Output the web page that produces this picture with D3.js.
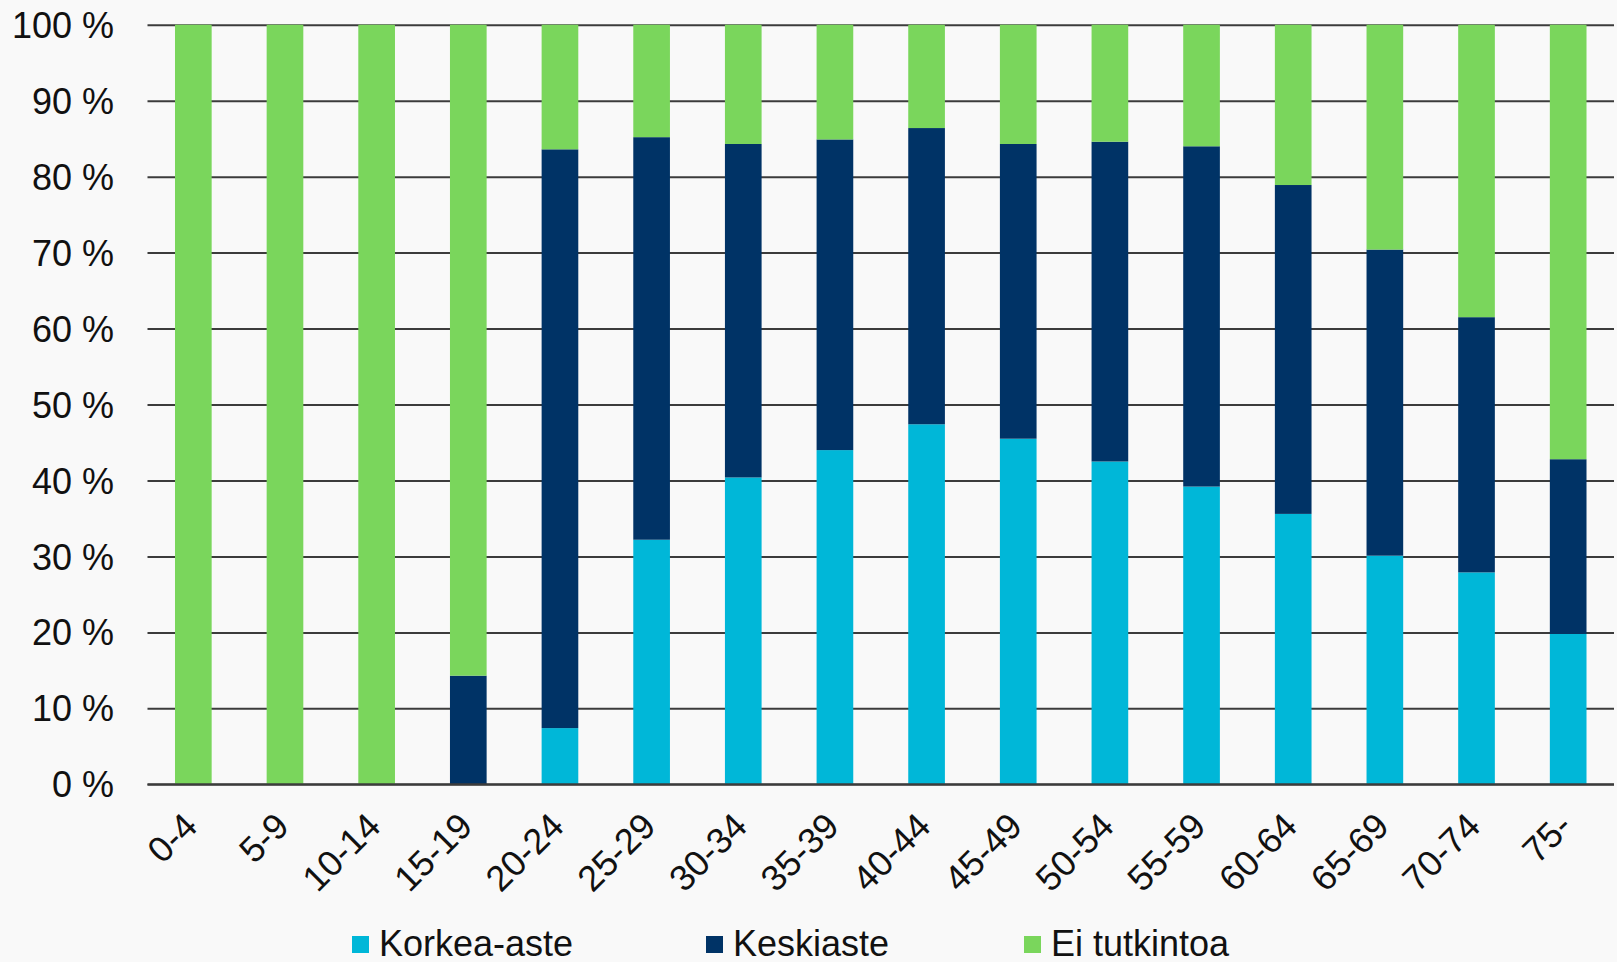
<!DOCTYPE html>
<html>
<head>
<meta charset="utf-8">
<script src="https://cdn.jsdelivr.net/npm/d3@7"></script>
<style>
  html, body { margin: 0; padding: 0; background: #f9f9f9; }
  svg { display: block; }
</style>
</head>
<body>
<script>
// age groups and the three education levels (percent of the age group)
var ageGroups = ["0-4", "5-9", "10-14", "15-19", "20-24", "25-29", "30-34", "35-39",
                 "40-44", "45-49", "50-54", "55-59", "60-64", "65-69", "70-74", "75-"];
var korkeaAste = [0, 0, 0, 0, 7.4, 32.2, 40.4, 44.0, 47.4, 45.5, 42.5, 39.2, 35.6, 30.1, 27.9, 19.8];
var keskiaste  = [0, 0, 0, 14.3, 76.2, 53.0, 43.9, 40.9, 39.0, 38.8, 42.1, 44.8, 43.3, 40.3, 33.6, 23.0];
var eiTutkintoa = [100, 100, 100, 85.7, 16.4, 14.8, 15.7, 15.1, 13.6, 15.7, 15.4, 16.0, 21.1, 29.6, 38.5, 57.2];
var seriesNames = ["Korkea-aste", "Keskiaste", "Ei tutkintoa"];
var seriesColors = ["#00b7d8", "#003366", "#7ad65c"];
var yTicks = [0, 10, 20, 30, 40, 50, 60, 70, 80, 90, 100];

var w = 1617, h = 962;
// note: "top" is taken by window.top, so plot edges get their own names
var plotLeft = 147.5, plotRight = 1614, plotTop = 24.75, plotBottom = 784.3;
var fontSize = 36;

// build rows for d3.stack
var rows = ageGroups.map(function(a, i) {
  return { age: a, "Korkea-aste": korkeaAste[i], "Keskiaste": keskiaste[i], "Ei tutkintoa": eiTutkintoa[i] };
});
var stacked = d3.stack().keys(seriesNames)(rows);

var xScale = d3.scaleBand()
  .domain(ageGroups)
  .range([plotLeft, plotRight])
  .paddingInner(0.6)
  .paddingOuter(0.3);

var yScale = d3.scaleLinear()
  .domain([0, 100])
  .range([plotBottom, plotTop]);

var svg = d3.select("body").append("svg")
  .attr("width", w)
  .attr("height", h)
  .style("font-family", "'Liberation Sans', Arial, sans-serif");

svg.append("rect").attr("width", w).attr("height", h).attr("fill", "#f9f9f9");

// gridlines + y labels
var yAxis = svg.append("g")
  .attr("transform", "translate(" + plotLeft + ",0)")
  .call(d3.axisLeft(yScale).tickValues(yTicks)
    .tickSize(-(plotRight - plotLeft))
    .tickPadding(plotLeft - 114)
    .tickFormat(function(d) { return d + " %"; }));
yAxis.select(".domain").remove();
yAxis.selectAll(".tick line").attr("stroke", "#3c3c3c").attr("stroke-width", 2);
yAxis.selectAll(".tick text")
  .attr("fill", "#111")
  .style("font-size", fontSize + "px")
  .attr("dy", "0.35em");

// bars
svg.append("g").selectAll("g")
  .data(stacked)
  .enter().append("g")
  .attr("fill", function(d, i) { return seriesColors[i]; })
  .selectAll("rect")
  .data(function(d) { return d; })
  .enter().append("rect")
  .attr("x", function(d) { return xScale(d.data.age); })
  .attr("y", function(d) { return yScale(d[1]); })
  .attr("width", xScale.bandwidth())
  .attr("height", function(d) { return yScale(d[0]) - yScale(d[1]); });

// baseline on top
svg.append("line")
  .attr("x1", plotLeft).attr("x2", plotRight)
  .attr("y1", plotBottom).attr("y2", plotBottom)
  .attr("stroke", "#3c3c3c").attr("stroke-width", 2);

// x labels, rotated
svg.append("g").selectAll("text")
  .data(ageGroups)
  .enter().append("text")
  .attr("transform", function(d) {
    return "translate(" + (xScale(d) + xScale.bandwidth() / 2 + 6) + "," + (plotBottom + 44) + ") rotate(-45)";
  })
  .attr("text-anchor", "end")
  .attr("fill", "#111")
  .style("font-size", fontSize + "px")
  .text(function(d) { return d; });

// legend
var legendX = [352, 706, 1024];
var legend = svg.append("g").selectAll("g")
  .data(seriesNames)
  .enter().append("g")
  .attr("transform", function(d, i) { return "translate(" + legendX[i] + ",0)"; });
legend.append("rect")
  .attr("x", 0).attr("y", 936)
  .attr("width", 17).attr("height", 17)
  .attr("fill", function(d, i) { return seriesColors[i]; });
legend.append("text")
  .attr("x", 27).attr("y", 956)
  .attr("fill", "#111")
  .style("font-size", fontSize + "px")
  .text(function(d) { return d; });
</script>
</body>
</html>
